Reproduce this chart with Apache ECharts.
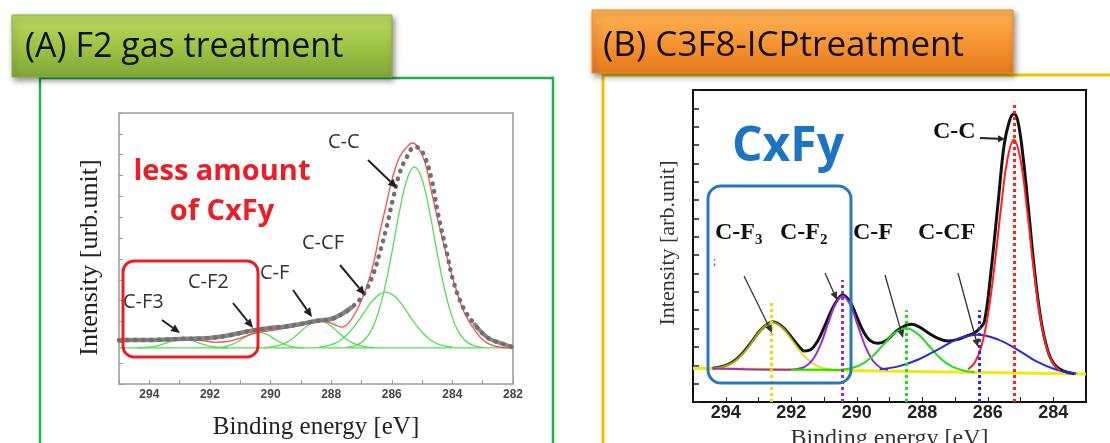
<!DOCTYPE html>
<html><head><meta charset="utf-8">
<script src="https://cdn.jsdelivr.net/npm/echarts@6/dist/echarts.min.js"></script>
<style>html,body{margin:0;padding:0;background:#fff}#c{width:1110px;height:443px}</style>
</head><body><div id="c"></div>
<script>
// ---------- Panel A data (binding energy eV, intensity a.u.) ----------
const measuredA = [[295.0,21.0],[294.5,21.1],[294.0,21.1],[293.5,21.3],[293.0,21.6],[292.5,21.8],[292.0,22.1],[291.5,23.0],[291.0,24.5],[290.5,25.9],[290.0,26.9],[289.5,27.6],[289.0,28.8],[288.5,30.2],[288.0,31.2],[287.7,33.1],[287.3,37.0],[286.9,43.6],[286.6,53.2],[286.4,62.8],[286.17,75.3],[285.97,88.2],[285.74,101.2],[285.5,108.9],[285.24,113.9],[284.97,110.8],[284.68,97.8],[284.48,82.0],[284.18,62.8],[283.98,49.9],[283.65,36.9],[283.3,29.3],[282.86,22.5],[282.43,19.7],[282.0,17.7]];
const fitA = [[294.8,20.6],[294.0,21.0],[293.0,21.3],[292.3,20.8],[291.8,20.0],[291.4,20.4],[291.0,22.0],[290.5,24.4],[290.0,25.6],[289.5,26.8],[289.0,28.4],[288.7,29.7],[288.4,30.7],[287.95,28.8],[287.65,27.3],[287.4,29.7],[287.1,36.9],[286.83,46.5],[286.6,58.0],[286.4,72.4],[286.17,86.8],[285.97,99.3],[285.74,108.9],[285.5,113.7],[285.33,115.6],[285.14,113.7],[284.9,106.0],[284.68,91.6],[284.48,78.7],[284.18,61.0],[283.9,46.5],[283.6,34.0],[283.2,24.5],[282.86,19.7],[282.4,17.6],[282.0,17.3]];
const ccA = [[287.5,17.6],[287.2,18.4],[286.9,21.1],[286.6,28.0],[286.3,41.8],[286.0,62.8],[285.75,82.5],[285.5,98.1],[285.25,104.1],[285.0,98.1],[284.75,82.5],[284.5,62.8],[284.2,41.8],[283.9,28.0],[283.6,21.1],[283.3,18.4],[283.0,17.6]];
const ccfA = [[288.4,17.7],[288.0,18.8],[287.7,20.9],[287.4,24.8],[287.1,30.3],[286.8,36.8],[286.5,42.0],[286.2,44.1],[285.9,42.0],[285.6,36.8],[285.3,30.3],[285.0,24.8],[284.7,20.9],[284.4,18.8],[284.0,17.7]];
const cfA = [[290.2,17.4],[289.9,17.9],[289.6,19.1],[289.3,21.5],[289.0,25.2],[288.7,28.8],[288.4,30.3],[288.1,28.8],[287.8,25.2],[287.5,21.5],[287.2,19.1],[286.9,17.9],[286.6,17.4]];
const cf2A = [[291.9,17.4],[291.65,17.6],[291.4,18.3],[291.15,19.8],[290.9,21.9],[290.65,24.0],[290.4,24.9],[290.15,24.0],[289.9,21.9],[289.65,19.8],[289.4,18.3],[289.15,17.6],[288.9,17.4]];
const cf3A = [[294.4,17.35],[294.15,17.5],[293.9,17.9],[293.65,18.7],[293.4,19.9],[293.15,21.1],[292.9,21.6],[292.65,21.1],[292.4,19.9],[292.15,18.7],[291.9,17.9],[291.65,17.5],[291.4,17.35]];
const baseA = [[295.0,17.3],[282.0,17.3]];

// ---------- Panel B data ----------
const totalB = [[294.4,18.4],[294.1,19.4],[293.8,21.6],[293.5,26.3],[293.2,33.0],[292.9,39.8],[292.56,43.6],[292.25,40.6],[291.95,34.3],[291.75,30.0],[291.6,27.8],[291.4,28.6],[291.2,33.0],[291.0,40.5],[290.8,48.8],[290.6,55.4],[290.43,58.3],[290.2,54.5],[290.0,46.5],[289.8,38.5],[289.6,33.6],[289.36,32.0],[289.1,33.5],[288.8,38.5],[288.5,41.8],[288.34,42.3],[288.1,41.0],[287.8,37.5],[287.5,34.5],[287.22,33.2],[286.9,34.2],[286.6,36.3],[286.41,37.6],[286.25,40.0],[286.1,44.0],[285.9,71.4],[285.69,107.5],[285.5,140.0],[285.34,153.0],[285.2,157.0],[285.08,153.0],[284.93,134.8],[284.77,107.5],[284.57,71.4],[284.37,44.1],[284.16,27.6],[283.96,20.3],[283.7,17.0],[283.35,15.4]];
const cf3B = [[294.36,18.5],[294.06,19.35],[293.76,21.7],[293.46,26.55],[293.16,33.55],[292.86,40.4],[292.56,43.25],[292.26,40.25],[291.96,33.3],[291.66,26.1],[291.36,21.15],[291.06,18.65],[290.76,17.6]];
const cf2B = [[294.4,18.25],[292.0,17.6],[291.81,18.0],[291.58,19.3],[291.35,22.95],[291.12,30.6],[290.89,41.95],[290.66,53.0],[290.43,57.75],[290.2,52.9],[289.97,41.75],[289.74,30.3],[289.51,22.55],[289.28,18.8],[289.05,17.4]];
const cfB = [[292.0,17.6],[290.6,17.5],[290.25,18.1],[289.9,20.05],[289.55,24.4],[289.2,31.0],[288.85,37.5],[288.5,40.2],[288.15,37.3],[287.8,30.65],[287.45,23.85],[287.1,19.35],[286.75,17.2],[286.4,16.4]];
const ccfB = [[289.3,17.85],[288.7,19.55],[288.1,23.3],[287.5,28.85],[286.9,34.4],[286.3,36.65],[285.7,34.1],[285.1,28.6],[284.5,22.0],[283.9,17.6],[283.3,15.5]];
const ccB = [[286.6,17.85],[286.4,21.35],[286.2,29.9],[286.0,46.75],[285.8,73.2],[285.6,104.95],[285.4,132.1],[285.2,142.9],[285.0,132.05],[284.8,104.8],[284.6,72.95],[284.4,46.4],[284.2,29.45],[284.0,20.8],[283.8,17.2]];
const baseB = [[295.0,18.4],[283.0,15.3]];
const peakEnergyB = [292.6, 290.45, 288.5, 286.25, 285.2];
const peakTopB = [54.5, 66.5, 50.0, 50.0, 163.5];

const xTicksA = {min: 282, max: 295};
const xTicksB = {min: 283, max: 295};

// ---------- chart ----------
const chart = echarts.init(document.getElementById('c'));
const SERIF = "'Liberation Serif','DejaVu Serif',serif";
const SANS = "'Open Sans','Liberation Sans',sans-serif";

function ln(data, idx, color, width, z, extra) {
  return Object.assign({
    type: 'line', xAxisIndex: idx, yAxisIndex: idx, data: data, showSymbol: false,
    smooth: 0.4, silent: true, z: z, animation: false,
    lineStyle: {color: color, width: width}
  }, extra || {});
}
const peakColorsB = ['#e6e000', '#9a30c8', '#22dd22', '#3030c8', '#ff2020'];
function vmark(i) {
  return {silent: true, symbol: ['none', 'none'], label: {show: false},
    lineStyle: {type: 'dotted', width: 3, color: peakColorsB[i], opacity: 1},
    data: [[{coord: [peakEnergyB[i], 0]}, {coord: [peakEnergyB[i], peakTopB[i]]}]]};
}

function arrow(x1, y1, x2, y2, color, width, head, hw) {
  const a = Math.atan2(y2 - y1, x2 - x1);
  const bx = x2 - head * Math.cos(a), by = y2 - head * Math.sin(a);
  const px = -Math.sin(a) * hw, py = Math.cos(a) * hw;
  return [
    {type: 'line', z: 120, silent: true, shape: {x1: x1, y1: y1, x2: bx, y2: by}, style: {stroke: color, lineWidth: width}},
    {type: 'polygon', z: 120, silent: true, shape: {points: [[x2, y2], [bx + px, by + py], [bx - px, by - py]]}, style: {fill: color}}
  ];
}
function txt(x, y, text, size, opts) {
  return {type: 'text', x: x, y: y, z: 120, silent: true,
    style: Object.assign({text: text, fontSize: size, fontFamily: SANS, fill: '#333', verticalAlign: 'middle', align: 'left'}, opts || {})};
}

const graphics = [].concat(
  // panel frames
  [{type: 'rect', z: 1, silent: true, shape: {x: 40, y: 78, width: 513, height: 380}, style: {fill: 'none', stroke: '#22b04c', lineWidth: 2.5}},
   {type: 'polyline', z: 1, silent: true, shape: {points: [[1115, 75], [603, 75], [603, 450]]}, style: {fill: 'none', stroke: '#f5c000', lineWidth: 3}},
   // title boxes
   {type: 'rect', z: 110, silent: true, shape: {x: 12, y: 15, width: 380, height: 62},
    style: {fill: {type: 'linear', x: 0, y: 0, x2: 0, y2: 1, colorStops: [{offset: 0, color: '#bcd862'}, {offset: 0.5, color: '#9fc445'}, {offset: 1, color: '#80a636'}]},
      stroke: '#8fb042', lineWidth: 1, shadowBlur: 6, shadowColor: 'rgba(0,0,0,0.45)', shadowOffsetX: 2, shadowOffsetY: 3}},
   txt(25, 47, '(A) F2 gas treatment', 34, {fill: '#111'}),
   {type: 'rect', z: 110, silent: true, shape: {x: 592, y: 10, width: 421, height: 63},
    style: {fill: {type: 'linear', x: 0, y: 0, x2: 0, y2: 1, colorStops: [{offset: 0, color: '#fcb555'}, {offset: 0.5, color: '#f79535'}, {offset: 1, color: '#e5791c'}]},
      stroke: '#ef8a2c', lineWidth: 1, shadowBlur: 6, shadowColor: 'rgba(0,0,0,0.45)', shadowOffsetX: 2, shadowOffsetY: 3}},
   txt(603, 46, '(B) C3F8-ICPtreatment', 35, {fill: '#111'}),
   // panel A annotations
   txt(222, 172, 'less amount', 29, {fill: '#ee1c24', fontWeight: 'bold', align: 'center'}),
   txt(222, 212, 'of CxFy', 29, {fill: '#ee1c24', fontWeight: 'bold', align: 'center'}),
   txt(328, 142, 'C-C', 20),
   txt(302, 243, 'C-CF', 20),
   txt(260, 273, 'C-F', 20),
   txt(188, 282, 'C-F2', 20),
   txt(123, 302, 'C-F3', 20),
   {type: 'rect', z: 120, silent: true, shape: {x: 123, y: 261, width: 135, height: 96, r: 11}, style: {fill: 'none', stroke: '#ee1c24', lineWidth: 3}},
   // panel B annotations
   txt(732, 147, 'CxFy', 48, {fill: '#1c74c2', fontWeight: 'bold'}),
   txt(933, 132, 'C-C', 24, {fontFamily: SERIF, fontWeight: 'bold', fill: '#111'}),
   txt(715, 233, 'C-F', 24, {fontFamily: SERIF, fontWeight: 'bold', fill: '#111'}),
   txt(755, 240, '3', 15, {fontFamily: SERIF, fontWeight: 'bold', fill: '#111'}),
   txt(780, 233, 'C-F', 24, {fontFamily: SERIF, fontWeight: 'bold', fill: '#111'}),
   txt(820, 240, '2', 15, {fontFamily: SERIF, fontWeight: 'bold', fill: '#111'}),
   txt(853, 233, 'C-F', 24, {fontFamily: SERIF, fontWeight: 'bold', fill: '#111'}),
   txt(918, 233, 'C-CF', 24, {fontFamily: SERIF, fontWeight: 'bold', fill: '#111'}),
   txt(713, 262, ';', 12, {fontFamily: SERIF, fill: '#555'}),
   {type: 'rect', z: 120, silent: true, shape: {x: 708, y: 186, width: 143, height: 197, r: 13}, style: {fill: 'none', stroke: '#2479c2', lineWidth: 3}}],
  arrow(368, 160, 397, 188, '#222', 2, 9, 4),
  arrow(340, 265, 365, 295, '#222', 2, 9, 4),
  arrow(293, 290, 312, 317, '#222', 2, 9, 4),
  arrow(233, 303, 253, 328, '#222', 2, 9, 4),
  arrow(162, 320, 180, 333, '#222', 2, 9, 4),
  arrow(980, 138, 1005, 139, '#222', 2, 7, 3.5),
  arrow(744, 276, 772, 333, '#333', 1.3, 8, 3.5),
  arrow(825, 273, 837, 300, '#333', 1.3, 8, 3.5),
  arrow(885, 275, 903, 338, '#333', 1.3, 8, 3.5),
  arrow(958, 273, 978, 347, '#333', 1.3, 8, 3.5)
);

const evenOnly = v => (Math.round(v) % 2 === 0 ? String(Math.round(v)) : '');

const option = {
  backgroundColor: '#fff',
  animation: false,
  grid: [
    {left: 119, top: 113, width: 394, height: 271, show: true, borderColor: '#9a9a9a', borderWidth: 1.5, backgroundColor: 'transparent', outerBoundsMode: 'none', containLabel: false},
    {left: 693, top: 90, width: 393, height: 312, show: true, borderColor: '#111', borderWidth: 2, backgroundColor: 'transparent', outerBoundsMode: 'none', containLabel: false}
  ],
  xAxis: [
    {type: 'value', gridIndex: 0, min: xTicksA.min, max: xTicksA.max, interval: 1, inverse: true,
     axisLine: {show: false}, splitLine: {show: false},
     axisTick: {inside: true, length: 4, lineStyle: {color: '#999'}},
     axisLabel: {formatter: evenOnly, fontSize: 12, fontWeight: 'bold', color: '#444', margin: 5, fontFamily: "'Liberation Sans',sans-serif", interval: 0},
     name: 'Binding energy [eV]', nameLocation: 'middle', nameGap: 31,
     nameTextStyle: {fontFamily: SERIF, fontSize: 25, color: '#222'}},
    {type: 'value', gridIndex: 1, min: xTicksB.min, max: xTicksB.max, interval: 1, inverse: true,
     axisLine: {show: false}, splitLine: {show: false},
     axisTick: {inside: true, length: 5, lineStyle: {color: '#222'}},
     axisLabel: {formatter: evenOnly, fontSize: 18, fontWeight: 'bold', color: '#222', margin: 2, fontFamily: "'Liberation Sans',sans-serif", interval: 0},
     name: 'Binding energy [eV]', nameLocation: 'middle', nameGap: 19,
     nameTextStyle: {fontFamily: SERIF, fontSize: 24, color: '#333'}}
  ],
  yAxis: [
    {type: 'value', gridIndex: 0, min: 0, max: 130, interval: 10,
     axisLine: {show: false}, splitLine: {show: false}, axisLabel: {show: false},
     axisTick: {inside: true, length: 4, lineStyle: {color: '#999'}},
     name: 'Intensity [urb.unit]', nameLocation: 'middle', nameGap: 16,
     nameTextStyle: {fontFamily: SERIF, fontSize: 26, color: '#222', padding: [0, 18, 0, 0]}},
    {type: 'value', gridIndex: 1, min: 0, max: 170, interval: 10,
     axisLine: {show: false}, splitLine: {show: false}, axisLabel: {show: false},
     axisTick: {inside: true, length: 6, lineStyle: {color: '#222', width: 1.5}},
     name: 'Intensity [arb.unit]', nameLocation: 'middle', nameGap: 14,
     nameTextStyle: {fontFamily: SERIF, fontSize: 22, color: '#333', padding: [0, 0, 0, 6]}}
  ],
  series: [
    // panel A
    ln(baseA, 0, '#55dd55', 1.3, 2, {smooth: false}),
    ln(cf3A, 0, '#55dd55', 1.3, 2),
    ln(cf2A, 0, '#55dd55', 1.3, 2),
    ln(cfA, 0, '#55dd55', 1.3, 2),
    ln(ccfA, 0, '#55dd55', 1.3, 2),
    ln(ccA, 0, '#55dd55', 1.3, 2),
    ln(fitA, 0, '#ff4d4d', 1.3, 3),
    ln(measuredA.filter(p => p[0] >= 287.3), 0, '#777', 4.5, 4, {lineStyle: {color: '#7a7a7a', width: 4.5, opacity: 0.9}}),
    ln(measuredA.filter(p => p[0] <= 283.3), 0, '#777', 4, 4, {lineStyle: {color: '#7a7a7a', width: 4, opacity: 0.9}}),
    ln(measuredA, 0, '#707070', 4.5, 4, {lineStyle: {color: '#707070', width: 4.5, type: [0.5, 7.5], cap: 'round'}}),
    // panel B
    ln(baseB, 1, '#f0ea10', 3, 2, {smooth: false}),
    ln(totalB, 1, '#111', 3, 3),
    ln(cf3B, 1, '#d8d200', 2, 4, {lineStyle: {color: '#d8d200', width: 2.2, opacity: 0.75}, markLine: vmark(0)}),
    ln(cf2B, 1, '#9a30c8', 2, 4, {markLine: vmark(1)}),
    ln(cfB, 1, '#22dd22', 2, 4, {markLine: vmark(2)}),
    ln(ccfB, 1, '#2a2ae0', 2, 4, {markLine: vmark(3)}),
    ln(ccB, 1, '#ff2020', 2, 4, {markLine: vmark(4)})
  ],
  graphic: graphics
};
chart.setOption(option);
</script></body></html>
